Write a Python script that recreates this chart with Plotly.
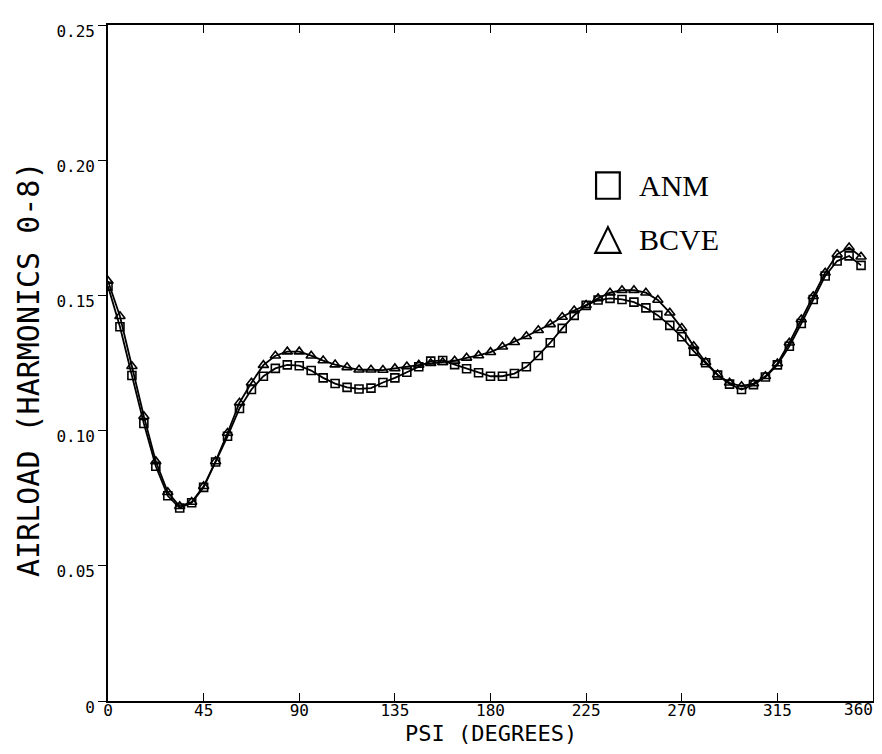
import plotly.graph_objects as go

step = 5.625
n_pts = 64
psi = [i * step for i in range(n_pts)]

anm = [0.1534, 0.1384, 0.1204, 0.1026, 0.0868, 0.0759, 0.0714, 0.0733, 0.0790, 0.0884,
       0.0979, 0.1082, 0.1152, 0.1201, 0.1230, 0.1243, 0.1240, 0.1222, 0.1195, 0.1174,
       0.1160, 0.1154, 0.1157, 0.1178, 0.1195, 0.1216, 0.1236, 0.1257, 0.1259, 0.1244,
       0.1229, 0.1214, 0.1201, 0.1201, 0.1211, 0.1236, 0.1278, 0.1325, 0.1378, 0.1426,
       0.1463, 0.1483, 0.1489, 0.1485, 0.1475, 0.1454, 0.1426, 0.1389, 0.1347, 0.1294,
       0.1251, 0.1205, 0.1172, 0.1152, 0.1170, 0.1198, 0.1243, 0.1312, 0.1396, 0.1485,
       0.1572, 0.1627, 0.1646, 0.1611]

bcve = [0.1553, 0.1423, 0.1238, 0.1053, 0.0886, 0.0772, 0.0720, 0.0736, 0.0794, 0.0886,
        0.0991, 0.1103, 0.1177, 0.1242, 0.1277, 0.1292, 0.1292, 0.1277, 0.1259, 0.1244,
        0.1234, 0.1225, 0.1225, 0.1224, 0.1230, 0.1237, 0.1243, 0.1249, 0.1253, 0.1258,
        0.1269, 0.1278, 0.1290, 0.1310, 0.1327, 0.1349, 0.1371, 0.1393, 0.1420, 0.1444,
        0.1464, 0.1489, 0.1510, 0.1519, 0.1519, 0.1510, 0.1483, 0.1436, 0.1379, 0.1312,
        0.1253, 0.1207, 0.1177, 0.1164, 0.1174, 0.1201, 0.1248, 0.1325, 0.1411, 0.1497,
        0.1584, 0.1652, 0.1677, 0.1643]

x_ticks = [0, 45, 90, 135, 180, 225, 270, 315, 360]
x_tick_text = ["0", "45", "90", "135", "180", "225", "270", "315", "360"]
y_ticks = [0, 0.05, 0.10, 0.15, 0.20, 0.25]
y_tick_text = ["0", "0.05", "0.10", "0.15", "0.20", "0.25"]

series_names = ["ANM", "BCVE"]
x_title = "PSI (DEGREES)"
y_title = "AIRLOAD (HARMONICS 0-8)"

mono = "DejaVu Sans Mono"

fig = go.Figure()
fig.add_trace(go.Scatter(
    x=psi, y=anm, name=series_names[0], mode="lines+markers",
    line=dict(color="black", width=1.8),
    marker=dict(symbol="square-open", size=8, color="black", line=dict(width=1.6, color="black")),
    showlegend=False))
fig.add_trace(go.Scatter(
    x=psi, y=bcve, name=series_names[1], mode="lines+markers",
    line=dict(color="black", width=1.8),
    marker=dict(symbol="triangle-up-open", size=9, color="black", line=dict(width=1.6, color="black")),
    showlegend=False))

# legend glyphs (drawn as shapes) and labels
fig.add_shape(type="rect", xref="paper", yref="paper",
              x0=0.638, x1=0.669, y0=0.743, y1=0.782,
              line=dict(color="black", width=2.2), fillcolor="rgba(0,0,0,0)")
fig.add_shape(type="path", xref="paper", yref="paper",
              path="M 0.637 0.663 L 0.670 0.663 L 0.6535 0.701 Z",
              line=dict(color="black", width=2.2), fillcolor="rgba(0,0,0,0)")
fig.add_annotation(xref="paper", yref="paper", x=0.692, y=0.763, text=series_names[0],
                   showarrow=False, xanchor="left", yanchor="middle",
                   font=dict(family="Liberation Serif", size=30, color="black"))
fig.add_annotation(xref="paper", yref="paper", x=0.692, y=0.682, text=series_names[1],
                   showarrow=False, xanchor="left", yanchor="middle",
                   font=dict(family="Liberation Serif", size=30, color="black"))

# the last x tick label is right-aligned at the plot edge so it stays inside the page
fig.add_annotation(xref="paper", yref="paper", x=1.0, y=0, text=x_tick_text[-1],
                   showarrow=False, xanchor="right", yanchor="top", yshift=3, xshift=2,
                   font=dict(family=mono, size=16, color="black"))

# axis titles
fig.add_annotation(xref="paper", yref="paper", x=0.5, y=-0.048, text=x_title,
                   showarrow=False, xanchor="center", yanchor="middle",
                   font=dict(family=mono, size=22, color="black"))
fig.add_annotation(xref="paper", yref="paper", x=-0.103, y=0.49, text=y_title,
                   showarrow=False, xanchor="center", yanchor="middle", textangle=-90,
                   font=dict(family=mono, size=30, color="black"))

# page has an 8px body margin, so the figure is sized to fit inside the 882x754 window
fig.update_layout(
    width=866, height=738,
    margin=dict(l=100, r=1, t=17, b=45, autoexpand=False),
    paper_bgcolor="white", plot_bgcolor="white",
    font=dict(family=mono, color="black"),
)
fig.update_xaxes(
    range=[0, 360], tickvals=x_ticks, ticktext=x_tick_text[:-1] + [""],
    ticks="inside", ticklen=8, tickwidth=1.2, tickcolor="black",
    showline=True, linecolor="black", linewidth=1.6, mirror="ticks",
    showgrid=False, zeroline=False, ticklabelstandoff=-6,
    tickfont=dict(family=mono, size=16, color="black"),
    automargin=False,
)
fig.update_yaxes(
    range=[0, 0.25], tickvals=y_ticks, ticktext=y_tick_text,
    ticks="outside", ticklen=8, tickwidth=1.2, tickcolor="black",
    showline=True, linecolor="black", linewidth=1.6, mirror=True,
    showgrid=False, zeroline=False,
    tickfont=dict(family=mono, size=16, color="black"),
    ticklabelshift=6, ticklabelstandoff=0,
    automargin=False,
)

fig.write_html("out.html")
